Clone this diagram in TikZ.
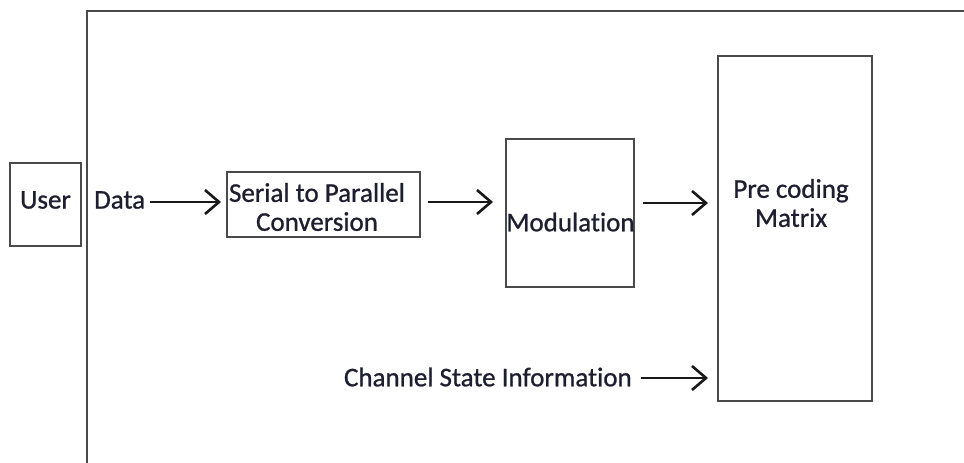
\documentclass[tikz,border=0pt]{standalone}
\usepackage{fontspec}
\setmainfont{Carlito}[RawFeature={-liga}, FakeBold=0.9]
\usetikzlibrary{arrows.meta}
\definecolor{txt}{HTML}{1E1E30}
\definecolor{edge}{HTML}{4A4A4A}
\begin{document}
\begin{tikzpicture}[x=1pt,y=-1pt,
  box/.style={draw=edge, line width=2pt, inner sep=0pt, fill=white},
  lbl/.style={font=\fontsize{27}{29}\selectfont, text=txt, inner sep=0pt, align=center},
  arr/.style={line width=2.6pt, draw=black!90, -{Straight Barb[length=14pt,width=24pt,line width=2.6pt]}},
  frame/.style={draw=edge, line width=2pt}
]
\useasboundingbox (0,0) rectangle (964,463);
\fill[white] (0,0) rectangle (964,463);
% outer frame (open)
\coordinate (fb) at (87,463);
\coordinate (ft) at (87,11);
\coordinate (fr) at (964,11);
\draw[frame] (fb) -- (ft) -- (fr);
% boxes
\node[box, minimum width=71pt, minimum height=83pt] (user) at (45.5,204.5) {};
\node[box, minimum width=193pt, minimum height=65pt] (serial) at (323.5,204.5) {};
\node[box, minimum width=128pt, minimum height=148pt] (modul) at (570,213) {};
\node[box, minimum width=154pt, minimum height=345pt] (precode) at (795,228.5) {};
% texts
\node[lbl] (usertxt) at (45.5,200) {User};
\node[lbl, anchor=west] (data) at (94,200) {Data};
\node[lbl] (serialtxt) at (317,207) {Serial to Parallel\\Conversion};
\node[lbl] (modtxt) at (570.5,222) {Modulation};
\node[lbl] (pretxt) at (791,203) {Pre coding\\Matrix};
\node[lbl, anchor=east] (csi) at (632,377) {Channel State Information};
% connectors
\draw[arr, shorten <=5pt, shorten >=5pt] (data.east |- 0,202) coordinate (d1) -- (serial.west |- d1);
\draw[arr, shorten <=7pt, shorten >=12pt] (serial.east |- 0,202) coordinate (s1) -- (modul.west |- s1);
\draw[arr, shorten <=8pt, shorten >=9pt] (modul.east |- 0,203) coordinate (m1) -- (precode.west |- m1);
\draw[arr, shorten <=9pt, shorten >=9pt] (csi.east |- 0,378) coordinate (c1) -- (precode.west |- c1);
\end{tikzpicture}
\end{document}
